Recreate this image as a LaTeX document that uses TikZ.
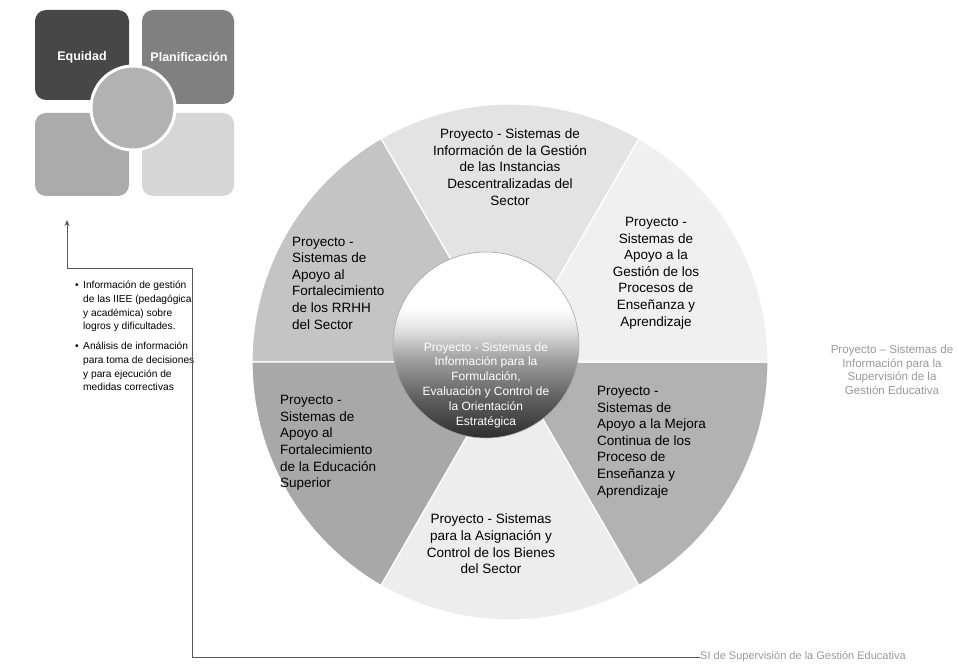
\documentclass[tikz,border=0pt]{standalone}
\usepackage{fontspec}
\setmainfont{Liberation Sans}
\usetikzlibrary{arrows.meta}
\pgfdeclareverticalshading{sphshade}{100bp}{color(0bp)=(black!82); color(25bp)=(black!82); color(36bp)=(black!62); color(46bp)=(black!38); color(54bp)=(black!12); color(60bp)=(white); color(100bp)=(white)}
\tikzset{
  sectortext/.style={font=\fontsize{13.5}{16.6}\selectfont, text=black, inner sep=0pt},
  quadbox/.style={rounded corners=11pt},
  conn/.style={draw=black!65, line width=0.8pt},
  lighttext/.style={font=\fontsize{11.6}{13.6}\selectfont, text=black!40, inner sep=0pt},
  bullettext/.style={font=\fontsize{10.2}{13.7}\selectfont, text=black, inner sep=0pt, align=left, anchor=north west},
}
\begin{document}
\begin{tikzpicture}[x=1pt,y=-1pt]
\useasboundingbox (0,0) rectangle (959,666);
\fill[white] (0,0) rectangle (959,666);

% ---------- top-left quadrant figure ----------
\fill[quadbox, black!72] (35,10) rectangle (129,100);
\fill[quadbox, black!50] (142,10) rectangle (234,104);
\fill[quadbox, black!33] (35,113) rectangle (129,196);
\fill[quadbox, black!16] (142,113) rectangle (234,196);
\node[circle, minimum size=84pt, fill=black!30, draw=white, line width=3pt, inner sep=0pt] (qcirc) at (133,108) {};
\node[font=\fontsize{12.5}{14}\selectfont\bfseries, text=white] (equidad) at (82,57) {Equidad};
\node[font=\fontsize{12.5}{14}\selectfont\bfseries, text=white] (planif) at (189,57) {Planificación};

% ---------- ring of sectors ----------
\coordinate (rc) at (510,362);
\def\R{258}
\begin{scope}[draw=white, line width=1.2pt]
\filldraw[fill=black!11] (rc) -- ++(-60:\R) arc[start angle=-60, end angle=-120, radius=\R] -- cycle;
\filldraw[fill=black!23] (rc) -- ++(-120:\R) arc[start angle=-120, end angle=-180, radius=\R] -- cycle;
\filldraw[fill=black!34] (rc) -- ++(-180:\R) arc[start angle=-180, end angle=-240, radius=\R] -- cycle;
\filldraw[fill=black!7] (rc) -- ++(-240:\R) arc[start angle=-240, end angle=-300, radius=\R] -- cycle;
\filldraw[fill=black!30] (rc) -- ++(-300:\R) arc[start angle=-300, end angle=-360, radius=\R] -- cycle;
\filldraw[fill=black!6] (rc) -- ++(0:\R) arc[start angle=0, end angle=-60, radius=\R] -- cycle;
\end{scope}

% ---------- central sphere ----------
\shade[shading=sphshade, draw=black!35, line width=0.6pt] (486,345) circle[radius=93];
\node[font=\fontsize{12}{14.8}\selectfont, text=white, align=center, inner sep=0pt] (core) at (486,385)
  {Proyecto - Sistemas de\\Información para la\\Formulación,\\Evaluación y Control de\\la Orientación\\Estratégica};

% ---------- sector texts ----------
\node[sectortext, align=center] (top) at (510,167)
  {Proyecto - Sistemas de\\Información de la Gestión\\de las Instancias\\Descentralizadas del\\Sector};
\node[sectortext, align=left, anchor=west] (ul) at (292,283)
  {Proyecto -\\Sistemas de\\Apoyo al\\Fortalecimiento\\de los RRHH\\del Sector};
\node[sectortext, align=center] (ur) at (656,273)
  {Proyecto -\\Sistemas de\\Apoyo a la\\Gestión de los\\Procesos de\\Enseñanza y\\Aprendizaje};
\node[sectortext, align=left, anchor=west] (lr) at (597,442)
  {Proyecto -\\Sistemas de\\Apoyo a la Mejora\\Continua de los\\Proceso de\\Enseñanza y\\Aprendizaje};
\node[sectortext, align=left, anchor=west] (ll) at (280,443)
  {Proyecto -\\Sistemas de\\Apoyo al\\Fortalecimiento\\de la Educación\\Superior};
\node[sectortext, align=center] (bot) at (491,544)
  {Proyecto - Sistemas\\para la Asignación y\\Control de los Bienes\\del Sector};

% ---------- right and bottom light texts ----------
\node[lighttext, align=center] (supv) at (892,370)
  {Proyecto -- Sistemas de\\Información para la\\Supervisión de la\\Gestión Educativa};
\node[lighttext, anchor=west, font=\fontsize{11}{13}\selectfont] (sige) at (700,657) {SI de Supervisión de la Gestión Educativa};

% ---------- bullets ----------
\node[bullettext] (b1) at (75,281)
  {\makebox[8pt][l]{•}Información de gestión\\\hspace*{8pt}de las IIEE (pedagógica\\\hspace*{8pt}y académica) sobre\\\hspace*{8pt}logros y dificultades.};
\node[bullettext] (b2) at (75,342)
  {\makebox[8pt][l]{•}Análisis de información\\\hspace*{8pt}para toma de decisiones\\\hspace*{8pt}y para ejecución de\\\hspace*{8pt}medidas correctivas};

% ---------- connector ----------
\coordinate (c1) at (192,657);
\coordinate (c2) at (192,268);
\coordinate (c3) at (67,268);
\coordinate (tip) at (67,220);
\draw[conn, -{Stealth[length=6pt,width=5pt]}] (sige.west) -- (c1) -- (c2) -- (c3) -- (tip);
\end{tikzpicture}
\end{document}
